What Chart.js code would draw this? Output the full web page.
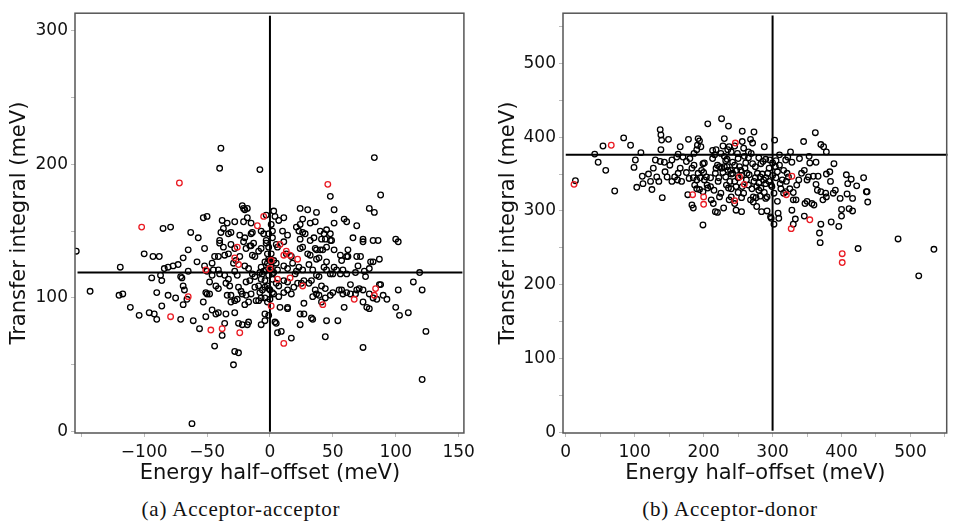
<!DOCTYPE html>
<html>
<head>
<meta charset="utf-8">
<title>Transfer integral vs energy half-offset</title>
<script src="https://cdn.jsdelivr.net/npm/chart.js@4.4.1/dist/chart.umd.min.js"></script>
<style>
	html, body { margin: 0; padding: 0; background: #fff; }
	#wrap { position: relative; width: 953px; height: 523px; overflow: hidden; }
	canvas { position: absolute; top: 0; }
	#chartA { left: 0; }
	#chartB { left: 480px; }
	.caption {
		position: absolute;
		top: 499px;
		width: 400px;
		text-align: center;
		font-family: "Liberation Serif", serif;
		font-size: 21px;
		line-height: 21px;
		letter-spacing: 0.8px;
		color: #111;
	}
</style>
</head>
<body>
<div id="wrap">
	<canvas id="chartA" width="480" height="490"></canvas>
	<canvas id="chartB" width="473" height="490"></canvas>
	<div class="caption" style="left: 41px;">(a) Acceptor-acceptor</div>
	<div class="caption" style="left: 530px;">(b) Acceptor-donor</div>
</div>
<script>
// (a) acceptor-acceptor pairs: [energy half-offset, transfer integral] in meV
const aaOther = [
	[-154,135],[-143,105],[-119,123],[-120,102],[-117,103],[-111,93],[-104,87],[-100,133],[-96,89],[-92,88],
	[-90,84],[-93,131],[-88,131],[-90,104],[-94,115],[-87,117],[-86,113],[-86,94],[-85,152],[-79,153],
	[-84,122],[-81,123],[-77,124],[-73,125],[-81,102],[-75,100],[-71,84],[-71,116],[-70,115],[-69,95],
	[-69,109],[-68,106],[-69,130],[-66,99],[-65,120],[-65,136],[-63,149],[-61,83],[-62,6],[-58,127],
	[-57,145],[-56,77],[-53,97],[-53,160],[-50,161],[-52,137],[-52,124],[-50,120],[-51,104],[-51,86],
	[-50,103],[-48,112],[-46,117],[-44,64],[-46,91],[-48,103],[-46,126],[-45,121],[-44,131],[-41,131],
	[-43,88],[-41,89],[-41,121],[-40,118],[-43,109],[-41,107],[-40,143],[-40,141],[-38,158],[-39,212],
	[-40,197],[-37,152],[-34,156],[-39,149],[-37,138],[-36,132],[-33,133],[-36,117],[-33,114],[-36,81],
	[-38,72],[-35,111],[-32,109],[-34,102],[-31,102],[-35,88],[-33,148],[-31,149],[-28,157],[-31,140],
	[-28,137],[-31,97],[-28,98],[-29,50],[-28,60],[-25,59],[-28,89],[-29,126],[-27,128],[-26,117],
	[-28,120],[-25,108],[-23,105],[-26,99],[-22,103],[-25,81],[-22,80],[-24,131],[-24,147],[-22,169],
	[-21,167],[-20,166],[-18,167],[-21,157],[-18,160],[-20,145],[-21,142],[-19,137],[-16,139],[-20,124],
	[-17,122],[-19,112],[-16,113],[-19,102],[-15,103],[-20,95],[-17,97],[-18,80],[-17,82],[-15,156],
	[-14,149],[-15,148],[-15,139],[-13,141],[-14,132],[-12,131],[-14,118],[-12,116],[-12,108],[-11,98],
	[-9,98],[-8,196],[-7,80],[-4,83],[-9,135],[-7,137],[-7,150],[-5,148],[-7,123],[-5,120],
	[-7,114],[-4,113],[-6,106],[-8,104],[-7,100],[-4,100],[-4,88],[-1,87],[-3,162],[-3,141],
	[-1,138],[-2,133],[-1,129],[-2,109],[-1,107],[-2,97],[0,99],[1,155],[2,150],[2,145],
	[2,114],[3,165],[4,161],[5,140],[6,138],[3,128],[5,126],[3,119],[6,121],[5,111],
	[7,109],[3,103],[7,101],[4,82],[5,81],[6,74],[9,75],[8,93],[7,158],[10,150],
	[11,160],[11,142],[14,147],[11,124],[14,122],[11,113],[14,112],[11,104],[14,106],[14,93],
	[14,92],[17,70],[13,133],[17,131],[18,126],[17,103],[19,108],[20,118],[21,120],[22,111],
	[21,153],[23,150],[24,167],[24,155],[26,159],[26,149],[28,148],[24,144],[24,137],[26,138],
	[23,123],[26,121],[25,111],[27,113],[24,88],[27,88],[24,80],[27,96],[30,166],[32,156],
	[32,143],[35,145],[30,133],[32,132],[31,125],[34,121],[31,111],[33,113],[33,85],[34,84],
	[34,101],[36,157],[37,164],[36,137],[37,136],[37,129],[39,130],[37,117],[39,116],[36,106],
	[37,103],[39,102],[40,150],[43,148],[41,144],[44,144],[40,136],[42,136],[41,109],[44,107],
	[43,123],[45,121],[41,97],[44,100],[45,83],[44,71],[45,151],[48,148],[45,138],[48,143],
	[45,127],[48,176],[49,143],[48,118],[50,118],[48,102],[50,104],[51,166],[51,156],[51,136],
	[51,123],[53,121],[54,83],[56,132],[57,128],[56,118],[58,121],[55,106],[57,106],[58,103],
	[61,104],[59,93],[59,159],[61,157],[61,131],[62,131],[61,118],[62,136],[64,110],[64,103],
	[66,145],[68,119],[69,154],[69,131],[70,124],[71,107],[69,106],[68,103],[72,131],[74,63],
	[74,144],[74,142],[74,106],[74,97],[75,120],[76,116],[77,93],[79,92],[79,167],[83,164],
	[83,205],[80,127],[82,127],[79,122],[79,103],[82,100],[82,143],[86,143],[85,99],[87,129],
	[88,177],[87,110],[88,110],[90,102],[93,99],[100,144],[102,142],[100,93],[102,106],[103,87],
	[110,89],[114,112],[119,119],[121,106],[121,39],[124,75],
	[1,123],[2,118],[0,121],[-3,121],[-6,118],[-1,117],[2,104],[0,106],[-2,126],[-4,127],
	[0,128],[1,133],[-3,143],[-1,148],[-4,108],[-9,109],[-8,119]
];
const aaMarked = [
	[-72,186],[-102,153],[-79,86],[-65,101],[-51,121],[-47,76],[-38,77],[-24,74],[-28,130],[-26,138],
	[-25,125],[-10,154],[-5,161],[1,128],[0,122],[1,94],[6,114],[8,140],[11,132],[13,135],
	[16,132],[16,115],[11,66],[22,129],[26,109],[42,95],[46,185],[67,99],[83,102],[84,107]
];
const aaXLabels = [-100, -50, 0, 50, 100, 150];
const aaYLabels = [0, 100, 200, 300];

// (b) acceptor-donor pairs
const adOther = [
	[14,341],[42,377],[47,366],[54,388],[58,355],[71,327],[84,399],[94,389],[99,359],[101,369],
	[103,332],[109,379],[111,347],[112,337],[120,350],[123,340],[125,329],[127,358],[130,369],[132,346],
	[135,340],[137,410],[138,403],[139,396],[138,383],[137,367],[143,366],[140,318],[144,353],[147,346],
	[149,397],[151,362],[154,369],[154,340],[158,346],[161,373],[163,377],[166,387],[166,358],[163,351],
	[168,340],[162,342],[170,373],[175,367],[178,397],[175,352],[179,344],[177,322],[180,371],[183,358],
	[186,362],[183,308],[185,304],[187,335],[190,342],[186,378],[190,383],[192,398],[194,395],[191,389],
	[196,387],[192,351],[197,355],[194,329],[199,326],[199,281],[199,364],[201,365],[201,342],[204,346],
	[206,418],[206,331],[210,333],[211,315],[214,310],[213,371],[216,376],[213,382],[218,383],[217,299],
	[220,298],[217,351],[221,340],[223,319],[225,324],[223,360],[226,358],[226,425],[228,388],[229,304],
	[230,398],[230,374],[234,370],[232,346],[234,360],[233,335],[236,331],[236,415],[237,315],[240,319],
	[237,387],[240,380],[239,355],[242,351],[245,340],[247,333],[247,301],[249,378],[250,371],[252,360],
	[254,355],[255,299],[256,408],[256,394],[258,324],[256,333],[259,374],[261,365],[263,351],[266,349],
	[265,380],[269,378],[268,397],[271,392],[273,407],[268,315],[272,319],[271,364],[275,360],[273,340],
	[277,333],[277,306],[278,351],[282,346],[280,328],[283,331],[283,364],[286,367],[284,299],[288,387],
	[287,342],[290,337],[290,317],[292,319],[292,300],[293,351],[295,358],[296,369],[297,292],[298,290],
	[299,333],[302,324],[302,282],[303,396],[304,360],[307,353],[307,313],[308,297],[309,290],[310,376],
	[311,337],[314,342],[316,324],[319,326],[319,369],[322,373],[321,351],[323,346],[326,380],[328,366],
	[328,301],[330,282],[330,315],[334,315],[333,289],[335,335],[338,342],[339,371],[342,351],[346,355],
	[345,394],[346,293],[347,310],[350,313],[350,342],[352,346],[353,374],[354,365],[357,310],[360,308],
	[359,347],[362,406],[363,366],[363,336],[365,328],[366,347],[368,270],[369,257],[370,390],[370,326],
	[373,315],[370,282],[374,387],[377,324],[378,319],[378,380],[378,350],[383,353],[384,340],[385,285],
	[388,324],[389,364],[391,328],[396,279],[398,317],[400,302],[400,293],[407,349],[408,323],[409,337],
	[411,303],[414,343],[416,300],[416,317],[422,334],[424,249],[432,345],[436,326],[437,326],[438,312],
	[482,262],[512,212],[534,248],
	[230,360],[235,355],[240,350],[245,362],[250,345],[238,340],[228,352],[255,348],[262,342],[248,355],
	[232,368],[242,366],[222,345],[218,358],[260,358],[265,335],[270,330],[275,345],[280,338],[285,350],
	[290,345],[295,340],[300,348],[305,345],[298,335],[288,325],[282,320],[276,318],[272,312],[255,318],
	[250,325],[210,345],[205,335],[200,352],[195,345],[190,330],[185,345],[215,328],[220,362],[225,378],
	[235,383],[245,388],[258,385],[265,372],[280,372],[290,370],[300,365],[305,368],[310,362],[316,355],
	[320,340],[325,330],[330,325],[312,330],[245,310],[240,330]
];
const adMarked = [
	[12,336],[66,389],[184,322],[200,319],[200,309],[245,314],[246,392],[252,346],[259,336],[320,322],
	[328,347],[327,276],[354,288],[401,242],[401,230]
];
const adXLabels = [0, 100, 200, 300, 400, 500];
const adYLabels = [0, 100, 200, 300, 400, 500];

// reference cross lines (mean values)
const aaMeanX = 0, aaMeanY = 119;
const adMeanX = 300, adMeanY = 376;

const toXY = (arr) => arr.map(([x, y]) => ({ x: x, y: y }));
const fmt = (v) => (v < 0 ? "\u2212" + Math.abs(v) : String(v));

// gray frame around the plot area
const framePlugin = {
	id: "frame",
	afterDraw(chart) {
		const { ctx, chartArea: a } = chart;
		ctx.save();
		ctx.strokeStyle = "#555";
		ctx.lineWidth = 1.5;
		ctx.strokeRect(a.left, a.top, a.right - a.left - 1, a.bottom - a.top);
		ctx.restore();
	},
};

function makeChart(id, cfg) {
	const pointSet = (data, color) => ({
		type: "scatter",
		data: toXY(data),
		borderColor: color,
		backgroundColor: "rgba(0,0,0,0)",
		pointRadius: 2.8,
		borderWidth: 1.3,
	});
	const lineSet = (data) => ({
		type: "line",
		data: toXY(data),
		borderColor: "#000",
		borderWidth: 2,
		pointRadius: 0,
		fill: false,
	});

	const tickFont = { family: "DejaVu Sans", size: 17 };
	const titleFont = { family: "DejaVu Sans", size: 21 };

	return new Chart(document.getElementById(id), {
		type: "scatter",
		data: {
			datasets: [
				pointSet(cfg.marked, "#ea1c24"),
				lineSet(cfg.hLine),
				lineSet(cfg.vLine),
				pointSet(cfg.other, "#000"),
			],
		},
		options: {
			responsive: false,
			animation: false,
			layout: { padding: { top: 13, right: cfg.padRight, bottom: 0, left: 0 } },
			plugins: { legend: { display: false }, tooltip: { enabled: false } },
			scales: {
				x: {
					type: "linear",
					min: cfg.xMin,
					max: cfg.xMax,
					afterFit: (s) => { s.height = 57; },
					ticks: {
						stepSize: 50,
						includeBounds: false,
						padding: 5,
						color: "#111",
						font: tickFont,
						maxRotation: 0,
						autoSkip: false,
						callback: (v) => (cfg.xLabels.includes(v) ? fmt(v) : ""),
					},
					grid: { drawOnChartArea: false, drawTicks: true, tickLength: 4, color: "#bbb" },
					border: { display: false },
					title: {
						display: true,
						text: "Energy half\u2013offset (meV)",
						font: titleFont,
						color: "#111",
						padding: { top: 0, bottom: 4 },
					},
				},
				y: {
					type: "linear",
					min: cfg.yMin,
					max: cfg.yMax,
					afterFit: (s) => { s.width = cfg.yWidth; },
					ticks: {
						stepSize: 50,
						includeBounds: false,
						padding: 3,
						color: "#111",
						font: tickFont,
						autoSkip: false,
						callback: (v) => (cfg.yLabels.includes(v) ? fmt(v) : ""),
					},
					grid: { drawOnChartArea: false, drawTicks: true, tickLength: 4, color: "#bbb" },
					border: { display: false },
					title: {
						display: true,
						text: "Transfer integral (meV)",
						font: titleFont,
						color: "#111",
						padding: { top: cfg.yTitlePad, bottom: 0 },
					},
				},
			},
		},
		plugins: [framePlugin],
	});
}

makeChart("chartA", {
	other: aaOther,
	marked: aaMarked,
	hLine: [[-153, aaMeanY], [153, aaMeanY]],
	vLine: [[aaMeanX, 0], [aaMeanX, 311]],
	xMin: -155, xMax: 155,
	yMin: -1, yMax: 313,
	xLabels: aaXLabels,
	yLabels: aaYLabels,
	yWidth: 75,
	yTitlePad: 7,
	padRight: 10,
});

makeChart("chartB", {
	other: adOther,
	marked: adMarked,
	hLine: [[0, adMeanY], [554, adMeanY]],
	vLine: [[adMeanX, 2], [adMeanX, 565]],
	xMin: -4, xMax: 554,
	yMin: -1, yMax: 568,
	xLabels: adXLabels,
	yLabels: adYLabels,
	yWidth: 83,
	yTitlePad: 16,
	padRight: 0,
});
</script>
</body>
</html>
